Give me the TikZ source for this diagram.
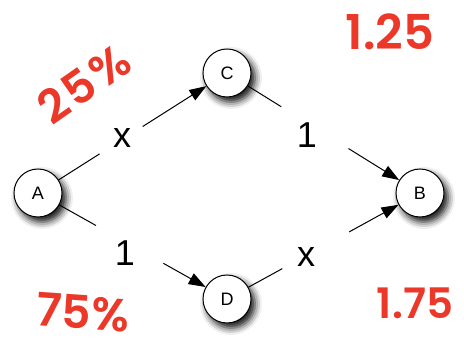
\documentclass[tikz,border=0pt]{standalone}
\usepackage{fontspec}
\setmainfont{Liberation Sans}
\newfontfamily\handfont{Poppins SemiBold}
\usetikzlibrary{arrows.meta,shadows.blur}
\definecolor{hand}{RGB}{236,56,40}
\tikzset{
  state/.style={circle,draw=black,line width=1pt,fill=white,minimum size=48pt,inner sep=0pt,
    font=\fontsize{18}{18}\selectfont,
    blur shadow={shadow xshift=4pt,shadow yshift=-5pt,shadow blur radius=7pt,shadow opacity=95}},
  edge/.style={line width=1pt,-{Triangle[length=17pt,width=12pt]}},
  gapnode/.style={circle,fill=white,inner sep=0pt,draw=none},
  lbl/.style={font=\fontsize{36}{36}\selectfont,inner sep=0pt},
  note/.style={text=hand,inner sep=0pt},
}
\begin{document}
\begin{tikzpicture}[x=1pt,y=-1pt]
\useasboundingbox (0,0) rectangle (464,352);
\node[state] (A) at (38,193) {A};
\node[state] (C) at (227,73) {C};
\node[state] (D) at (227,299) {D};
\node[state] (B) at (420,193) {B};

\draw[edge] (A) -- node[gapnode,pos=0.423,minimum size=51pt] (g1) {} (C);
\draw[edge] (C) -- node[gapnode,pos=0.443,minimum size=79pt] (g2) {} (B);
\draw[edge] (A) -- node[gapnode,pos=0.481,minimum size=77pt] (g3) {} (D);
\draw[edge] (D) -- node[gapnode,pos=0.448,minimum size=76pt] (g4) {} (B);

\node[lbl] (l1) at (122,138) {x};
\node[lbl] (l2) at (307,135) {1};
\node[lbl] (l3) at (125,253) {1};
\node[lbl] (l4) at (306,257) {x};

\node[note,font=\handfont\fontsize{46}{46}\selectfont,rotate=35] (n1) at (84,84) {2\kern3pt5\kern3pt\%};
\node[note,font=\handfont\fontsize{48}{48}\selectfont] (n2) at (390,32) {1.25};
\node[note,font=\handfont\fontsize{46}{46}\selectfont,rotate=-4] (n3) at (83,312) {75\%};
\node[note,font=\handfont\fontsize{42}{42}\selectfont] (n4) at (415,303) {1.75};
\end{tikzpicture}
\end{document}
